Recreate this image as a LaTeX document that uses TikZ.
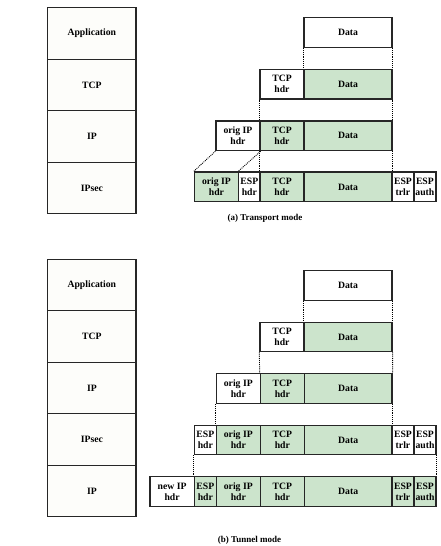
\documentclass[tikz,border=0pt]{standalone}
\usepackage{fontspec}
\setmainfont{Liberation Serif}
\definecolor{grn}{RGB}{204,228,204}
\definecolor{stk}{RGB}{253,253,250}
\begin{document}
\begin{tikzpicture}[x=1pt,y=-1pt,
  cell/.style={draw=black!85, line width=1.3pt, inner sep=0pt, align=center,
    font=\fontsize{9.7}{11}\selectfont\bfseries},
  layer/.style={cell, fill=stk, minimum width=88.3pt, minimum height=51.5pt},
  gcell/.style={fill=grn},
  wcell/.style={fill=white},
  dotline/.style={densely dotted, line width=0.9pt},
  captxt/.style={font=\fontsize{9}{10}\selectfont\bfseries}]
\useasboundingbox[fill=white] (0,0) rectangle (441,546);
% ---------- (a) Transport mode ----------
\node[layer] (aApp) at (91.85,33.45) {Application};
\node[layer] (aTCP) at (91.85,84.95) {TCP};
\node[layer] (aIP) at (91.85,136.45) {IP};
\node[layer] (aIPsec) at (91.85,187.95) {IPsec};
% row 1
\node[cell,wcell,minimum width=88pt,minimum height=29.6pt] (a1d) at (348,32.5) {Data};
% row 2
\node[cell,wcell,minimum width=44pt,minimum height=29.6pt] (a2t) at (282,84.1) {TCP\\hdr};
\node[cell,gcell,minimum width=88pt,minimum height=29.6pt] (a2d) at (348,84.1) {Data};
% row 3
\node[cell,wcell,minimum width=44pt,minimum height=29.6pt] (a3o) at (238,135.8) {orig IP\\hdr};
\node[cell,gcell,minimum width=44pt,minimum height=29.6pt] (a3t) at (282,135.8) {TCP\\hdr};
\node[cell,gcell,minimum width=88pt,minimum height=29.6pt] (a3d) at (348,135.8) {Data};
% row 4
\node[cell,gcell,minimum width=44.4pt,minimum height=29.6pt] (a4o) at (216.5,186.9) {orig IP\\hdr};
\node[cell,wcell,minimum width=21.3pt,minimum height=29.6pt] (a4e) at (249.35,186.9) {ESP\\hdr};
\node[cell,gcell,minimum width=44pt,minimum height=29.6pt] (a4t) at (282,186.9) {TCP\\hdr};
\node[cell,gcell,minimum width=88pt,minimum height=29.6pt] (a4d) at (348,186.9) {Data};
\node[cell,wcell,minimum width=21.9pt,minimum height=29.6pt] (a4r) at (402.95,186.9) {ESP\\trlr};
\node[cell,wcell,minimum width=22pt,minimum height=29.6pt] (a4a) at (424.9,186.9) {ESP\\auth};
% connectors
\draw[dotline] (a1d.south west) -- (a2d.north west);
\draw[dotline] (a1d.south east) -- (a2d.north east);
\draw[dotline] (a2t.south west) -- (a3t.north west);
\draw[dotline] (a2d.south east) -- (a3d.north east);
\draw[dotline] (a3o.south west) -- (a4o.north west);
\draw[dotline] (a3o.south east) -- (a4e.north west);
\draw[dotline] (a3t.south west) -- (a4t.north west);
\draw[dotline] (a3d.south east) -- (a4d.north east);
\node[captxt] (capa) at (265,218) {(a) Transport mode};
% ---------- (b) Tunnel mode ----------
\node[layer] (bApp) at (91.85,285.05) {Application};
\node[layer] (bTCP) at (91.85,336.55) {TCP};
\node[layer] (bIP) at (91.85,388.05) {IP};
\node[layer] (bIPsec) at (91.85,439.55) {IPsec};
\node[layer] (bIP2) at (91.85,491.05) {IP};
% row 1
\node[cell,wcell,minimum width=88pt,minimum height=29.6pt] (b1d) at (348,285.5) {Data};
% row 2
\node[cell,wcell,minimum width=44pt,minimum height=29.6pt] (b2t) at (282,337) {TCP\\hdr};
\node[cell,gcell,minimum width=88pt,minimum height=29.6pt] (b2d) at (348,337) {Data};
% row 3
\node[cell,wcell,minimum width=44pt,minimum height=29.6pt] (b3o) at (238.3,388.5) {orig IP\\hdr};
\node[cell,gcell,minimum width=44pt,minimum height=29.6pt] (b3t) at (282.3,388.5) {TCP\\hdr};
\node[cell,gcell,minimum width=87.7pt,minimum height=29.6pt] (b3d) at (348.15,388.5) {Data};
% row 4
\node[cell,wcell,minimum width=22pt,minimum height=29.6pt] (b4e) at (205.3,440) {ESP\\hdr};
\node[cell,gcell,minimum width=44pt,minimum height=29.6pt] (b4o) at (238.3,440) {orig IP\\hdr};
\node[cell,gcell,minimum width=44pt,minimum height=29.6pt] (b4t) at (282.3,440) {TCP\\hdr};
\node[cell,gcell,minimum width=87.7pt,minimum height=29.6pt] (b4d) at (348.15,440) {Data};
\node[cell,wcell,minimum width=22pt,minimum height=29.6pt] (b4r) at (403,440) {ESP\\trlr};
\node[cell,wcell,minimum width=22pt,minimum height=29.6pt] (b4a) at (425,440) {ESP\\auth};
% row 5
\node[cell,wcell,minimum width=44.3pt,minimum height=29.6pt] (b5n) at (172.15,491.4) {new IP\\hdr};
\node[cell,gcell,minimum width=22pt,minimum height=29.6pt] (b5e) at (205.3,491.4) {ESP\\hdr};
\node[cell,gcell,minimum width=44pt,minimum height=29.6pt] (b5o) at (238.3,491.4) {orig IP\\hdr};
\node[cell,gcell,minimum width=44pt,minimum height=29.6pt] (b5t) at (282.3,491.4) {TCP\\hdr};
\node[cell,gcell,minimum width=87.7pt,minimum height=29.6pt] (b5d) at (348.15,491.4) {Data};
\node[cell,gcell,minimum width=22pt,minimum height=29.6pt] (b5r) at (403,491.4) {ESP\\trlr};
\node[cell,gcell,minimum width=22pt,minimum height=29.6pt] (b5a) at (425,491.4) {ESP\\auth};
% connectors
\draw[dotline] (b1d.south west) -- (b2d.north west);
\draw[dotline] (b1d.south east) -- (b2d.north east);
\draw[dotline] (b2t.south west) -- (b3t.north west);
\draw[dotline] (b2d.south east) -- (b3d.north east);
\draw[dotline] (b3o.south west) -- (b4o.north west);
\draw[dotline] (b3d.south east) -- (b4d.north east);
\draw[dotline] (b4e.south west) -- (b5e.north west);
\draw[dotline] (b4a.south east) -- (b5a.north east);
\node[captxt] (capb) at (249.5,540) {(b) Tunnel mode};
\end{tikzpicture}
\end{document}
